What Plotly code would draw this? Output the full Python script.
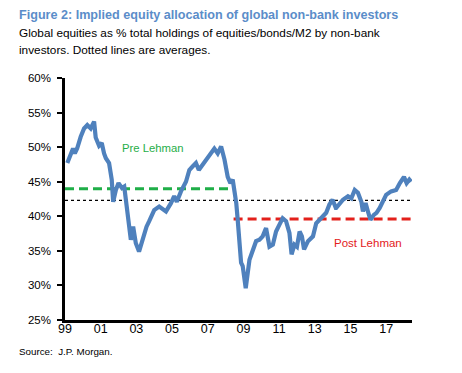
import plotly.graph_objects as go

# ---- data ----
years = [1999.13, 1999.25, 1999.45, 1999.55, 1999.68, 1999.88, 2000.07, 2000.25, 2000.44, 2000.63,
         2000.72, 2000.91, 2001.06, 2001.19, 2001.29, 2001.47, 2001.62, 2001.70, 2001.85, 2002.0,
         2002.19, 2002.32, 2002.41, 2002.55, 2002.69, 2002.82, 2002.97, 2003.15, 2003.34, 2003.57,
         2003.72, 2004.0, 2004.28, 2004.66, 2004.94, 2005.12, 2005.27, 2005.5, 2005.78, 2005.97,
         2006.15, 2006.34, 2006.5, 2006.78, 2007.1, 2007.37, 2007.56, 2007.75, 2007.94, 2008.12,
         2008.27, 2008.4, 2008.5, 2008.6, 2008.68, 2008.78, 2008.87, 2008.96, 2009.13, 2009.34,
         2009.53, 2009.71, 2009.90, 2010.08, 2010.27, 2010.46, 2010.65, 2010.83, 2011.02, 2011.2,
         2011.39, 2011.58, 2011.7, 2011.86, 2012.0, 2012.15, 2012.28, 2012.4, 2012.62, 2012.9,
         2013.08, 2013.36, 2013.64, 2013.82, 2014.0, 2014.18, 2014.2, 2014.58, 2014.86, 2015.05,
         2015.24, 2015.42, 2015.61, 2015.7, 2015.85, 2015.98, 2016.12, 2016.31, 2016.46, 2016.64,
         2016.79, 2017.0, 2017.28, 2017.56, 2017.77, 2018.0, 2018.15, 2018.3, 2018.4]
values = [47.7, 48.4, 49.8, 49.1, 49.8, 51.5, 52.7, 53.2, 52.7, 53.7,
          51.4, 50.2, 50.6, 49.1, 48.4, 47.7, 45.3, 42.1, 43.8, 44.8,
          44.1, 44.3, 42.4, 39.0, 36.6, 38.5, 36.1, 34.9, 36.6, 38.5,
          39.3, 40.9, 41.4, 40.7, 41.9, 42.9, 42.1, 43.6, 45.0, 46.7,
          47.2, 47.7, 46.7, 47.7, 48.6, 49.8, 49.1, 50.1, 48.2, 45.7,
          44.8, 45.3, 43.6, 41.9, 39.5, 36.6, 33.3, 32.8, 29.6, 33.7,
          35.2, 36.4, 36.6, 37.1, 38.3, 35.6, 35.9, 37.8, 38.8, 39.7,
          39.3, 37.6, 34.5, 35.9, 35.6, 37.8, 37.1, 35.2, 36.4, 37.1,
          39.0, 39.7, 40.5, 41.7, 42.4, 41.2, 41.2, 42.4, 42.9, 42.6,
          43.8, 43.4, 42.1, 40.7, 41.9, 40.7, 39.5, 40.2, 40.5, 41.2,
          42.1, 43.1, 43.6, 43.8, 44.8, 45.7, 44.8, 45.3, 45.0]

pre_avg = 44.0
post_avg = 39.6
all_avg = 42.3
pre_span = [1999.0, 2008.3]
post_span = [2008.45, 2018.45]
all_span = [1999.0, 2018.45]

x_tickvals = [1999, 2001, 2003, 2005, 2007, 2009, 2011, 2013, 2015, 2017]
x_ticktext = ["99", "01", "03", "05", "07", "09", "11", "13", "15", "17"]
y_tickvals = [25, 30, 35, 40, 45, 50, 55, 60]
y_ticktext = ["25%", "30%", "35%", "40%", "45%", "50%", "55%", "60%"]

# ---- layout geometry (page pixels; the page body adds an 8px margin) ----
OFF = 8
W, H = 462 - 2 * OFF, 373 - 2 * OFF
PL, PR, PT, PB = 65, 412, 78, 320.5          # plot box in page pixels
ML, MT = PL - OFF, PT - OFF
MR, MB = W - (PR - OFF), H - (PB - OFF)
PW, PH = PR - PL, PB - PT

def px(xp):
    return (xp - PL) / PW

def py(yp):
    return (PB - yp) / PH

FONT = "Liberation Sans, Arial, sans-serif"

fig = go.Figure()
fig.add_trace(go.Scatter(x=all_span, y=[all_avg, all_avg], mode="lines",
                         line=dict(color="black", width=1.3, dash="dot"), hoverinfo="skip"))
fig.add_trace(go.Scatter(x=pre_span, y=[pre_avg, pre_avg], mode="lines",
                         line=dict(color="#1fae48", width=3, dash="9px,5px"), hoverinfo="skip"))
fig.add_trace(go.Scatter(x=post_span, y=[post_avg, post_avg], mode="lines",
                         line=dict(color="#e3201b", width=3, dash="9px,5px"), hoverinfo="skip"))
fig.add_trace(go.Scatter(x=years, y=values, mode="lines",
                         line=dict(color="#4f81bd", width=4.2, shape="linear")))

annotations = [
    dict(text="<b>Figure 2: Implied equity allocation of global non-bank investors</b>",
         x=px(17), y=py(15), xanchor="left", yanchor="middle",
         font=dict(family=FONT, size=12.6, color="#5b8dc9")),
    dict(text="Global equities as % total holdings of equities/bonds/M2 by non-bank",
         x=px(17), y=py(33), xanchor="left", yanchor="middle",
         font=dict(family=FONT, size=11.8, color="black")),
    dict(text="investors. Dotted lines are averages.",
         x=px(17), y=py(50), xanchor="left", yanchor="middle",
         font=dict(family=FONT, size=11.8, color="black")),
    dict(text="Source:  J.P. Morgan.",
         x=px(17), y=py(352), xanchor="left", yanchor="middle",
         font=dict(family=FONT, size=9.8, color="black")),
    dict(text="Pre Lehman", x=px(153), y=py(148), xanchor="center", yanchor="middle",
         font=dict(family=FONT, size=11.3, color="#1fae48")),
    dict(text="Post Lehman", x=px(368), y=py(243), xanchor="center", yanchor="middle",
         font=dict(family=FONT, size=11.5, color="#e3201b")),
]
for a in annotations:
    a.update(xref="paper", yref="paper", showarrow=False)

fig.update_layout(
    width=W, height=H,
    margin=dict(l=ML, r=MR, t=MT, b=MB, pad=0, autoexpand=False),
    paper_bgcolor="white", plot_bgcolor="white",
    showlegend=False,
    annotations=annotations,
    font=dict(family=FONT, size=12, color="black"),
    xaxis=dict(range=[1999, 2018.45], tickvals=x_tickvals, ticktext=x_ticktext,
               showgrid=False, zeroline=False, showline=True, linecolor="black", linewidth=2.5,
               ticks="", ticklabelstandoff=-5, automargin=False,
               tickfont=dict(family=FONT, size=12.5, color="black")),
    yaxis=dict(range=[25, 60], tickvals=y_tickvals, ticktext=y_ticktext,
               showgrid=False, zeroline=False, showline=True, linecolor="black", linewidth=2.5,
               ticks="outside", ticklen=5, tickwidth=1.5, tickcolor="black", automargin=False,
               ticklabelstandoff=4,
               tickfont=dict(family=FONT, size=11.5, color="black")),
)

fig.write_html("out.html")
